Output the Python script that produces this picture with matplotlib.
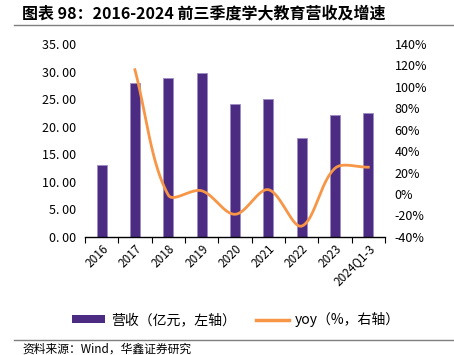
import numpy as np
import matplotlib
matplotlib.use("Agg")
import matplotlib.pyplot as plt
from matplotlib.lines import Line2D
from matplotlib.patches import Patch

plt.rcParams['font.family'] = ['Noto Sans CJK SC', 'DejaVu Sans']

years = ['2016', '2017', '2018', '2019', '2020', '2021', '2022', '2023', '2024Q1-3']
revenue = [13.0, 28.0, 28.8, 29.8, 24.2, 25.1, 17.9, 22.1, 22.5]
# yoy starts from 2017
yoy = [116, -1, 3, -19, 4, -30, 24, 25]

bar_color = '#4B2C82'
line_color = '#F79646'


def smooth(xs, ys, sx=33.3, sy=1.07, n=40):
    # bezier smoothing done in pixel space, tangents weighted by segment length
    P = np.column_stack([np.asarray(xs, float) * sx, np.asarray(ys, float) * sy])
    m = len(P)
    L = np.linalg.norm(np.diff(P, axis=0), axis=1)
    out = []
    for i in range(m - 1):
        p1, p2 = P[i], P[i + 1]
        if i == 0:
            c1 = p1 + (p2 - p1) / 3
        else:
            c1 = p1 + (P[i + 1] - P[i - 1]) * L[i] / (L[i - 1] + L[i]) / 3
        if i + 2 >= m:
            c2 = p2 - (p2 - p1) / 3
        else:
            c2 = p2 - (P[i + 2] - P[i]) * L[i] / (L[i] + L[i + 1]) / 3
        t = np.linspace(0, 1, n)[:, None]
        seg = (1 - t) ** 3 * p1 + 3 * (1 - t) ** 2 * t * c1 + 3 * (1 - t) * t ** 2 * c2 + t ** 3 * p2
        out.append(seg)
    out = np.vstack(out)
    return out[:, 0] / sx, out[:, 1] / sy


fig = plt.figure(figsize=(4.54, 3.55), dpi=100)
ax = fig.add_axes([0.187, 0.333, 0.661, 0.543])
ax2 = ax.twinx()

x = np.arange(len(years))
ax.bar(x, revenue, width=0.3, color=bar_color, edgecolor='#9C8CC4', linewidth=0.6, zorder=2)

ax.set_ylim(0, 35)
ax.set_yticks(np.arange(0, 36, 5))
ax.set_yticklabels(['{:.2f}'.format(v).replace('.', '. ') for v in np.arange(0, 36, 5)], fontsize=9)
ax.set_xlim(-0.5, len(years) - 0.5)
ax.set_xticks(x)
ax.set_xticklabels(years, rotation=45, ha='right', rotation_mode='anchor', fontsize=8.5)
ax.tick_params(axis='x', length=0, pad=4)
ax.set_xticks(np.arange(-0.5, len(years)), minor=True)
ax.tick_params(axis='x', which='minor', length=4, width=0.8, direction='out')
ax.tick_params(axis='y', length=0, pad=6)

lx, ly = smooth(x[1:], yoy)
ax2.plot(lx, ly, color=line_color, linewidth=2, zorder=3)
ax2.set_ylim(-40, 140)
ax2.set_yticks(np.arange(-40, 141, 20))
ax2.set_yticklabels(['{}%'.format(v) for v in np.arange(-40, 141, 20)], fontsize=9)
ax2.tick_params(axis='y', length=0, pad=7)

for a in (ax, ax2):
    for s in ['top', 'left', 'right']:
        a.spines[s].set_visible(False)
ax.spines['bottom'].set_linewidth(1)
ax2.spines['bottom'].set_visible(False)

handles = [Patch(facecolor=bar_color), Line2D([0], [0], color=line_color, linewidth=2.5)]
fig.legend(handles, ['营收（亿元，左轴）', 'yoy（%，右轴）'], loc='center', ncol=2,
           bbox_to_anchor=(0.52, 0.1), frameon=False, fontsize=10,
           handlelength=2.4, handleheight=0.5, handletextpad=0.4, columnspacing=1.45)

fig.text(0.048, 0.962, '图表 98：2016-2024 前三季度学大教育营收及增速', fontsize=11.5,
         fontweight='bold', va='center', ha='left')
fig.add_artist(Line2D([0.03, 1.0], [0.93, 0.93], color='#7F7F7F', linewidth=1))
fig.add_artist(Line2D([0.03, 1.0], [0.042, 0.042], color='#7F7F7F', linewidth=1))
fig.text(0.05, 0.017, '资料来源：Wind，华鑫证券研究', fontsize=8.5, va='center', ha='left')

fig.savefig('out.png', dpi=100)
